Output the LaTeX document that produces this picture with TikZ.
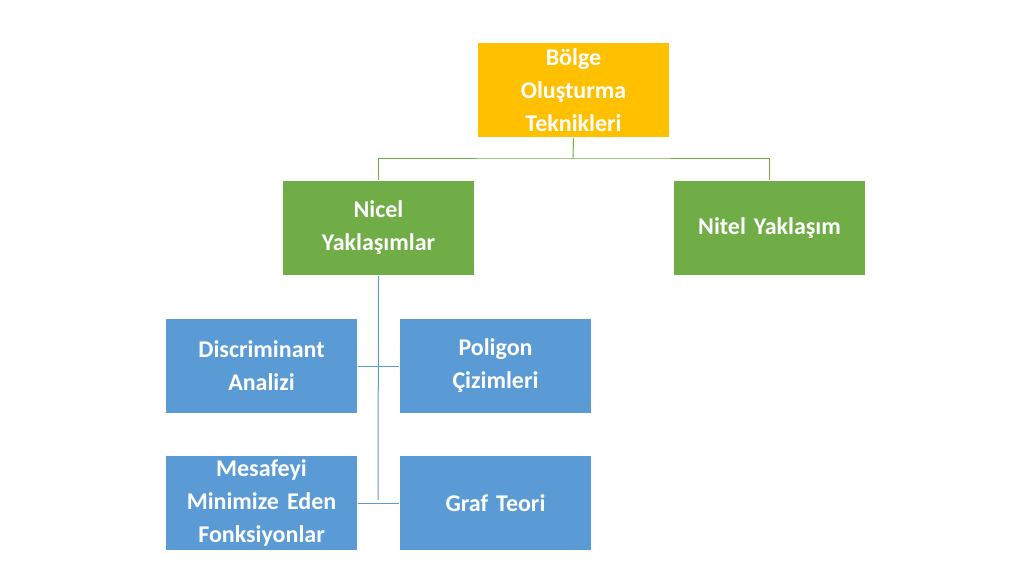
\documentclass[tikz,border=0pt]{standalone}
\usepackage{fontspec}
\setmainfont{Carlito}
\definecolor{yel}{HTML}{FFC000}
\definecolor{grn}{HTML}{70AD47}
\definecolor{blu}{HTML}{5B9BD5}
\begin{document}
\begin{tikzpicture}[x=1pt,y=-1pt,
 box/.style={minimum width=192pt,minimum height=95pt,inner sep=0pt,text=white,font=\bfseries\fontsize{24}{33}\selectfont,align=center,anchor=north west,text width=185pt,draw=white,line width=1pt},
 gl/.style={draw=grn,line width=1pt},
 bl/.style={draw=blu,line width=1pt}]
\useasboundingbox (0,0) rectangle (1024,576);
\node[box,fill=yel] (top) at (477,42) {Bölge\\Oluşturma\\Teknikleri};
\node[box,fill=grn] (nic) at (282,180) {Nicel\\Yaklaşımlar};
\node[box,fill=grn] (nit) at (673,180) {Nitel Yaklaşım};
\node[box,fill=blu] (dis) at (165,318) {Discriminant\\Analizi};
\node[box,fill=blu] (pol) at (399,318) {Poligon\\Çizimleri};
\node[box,fill=blu] (mes) at (165,455) {Mesafeyi\\Minimize Eden\\Fonksiyonlar};
\node[box,fill=blu] (gra) at (399,455) {Graf Teori};
\coordinate (j) at (573,158);
\draw[gl] (top.south) -- (j);
\draw[gl] (nic.north) |- (j) -| (nit.north);
\coordinate (b1) at (378,365);
\coordinate (b2) at (378,500);
\draw[bl] (nic.south) -- (b2);
\draw[bl] (dis.east) -- (pol.west);
\draw[bl] (mes.east) -- (gra.west);
\end{tikzpicture}
\end{document}
